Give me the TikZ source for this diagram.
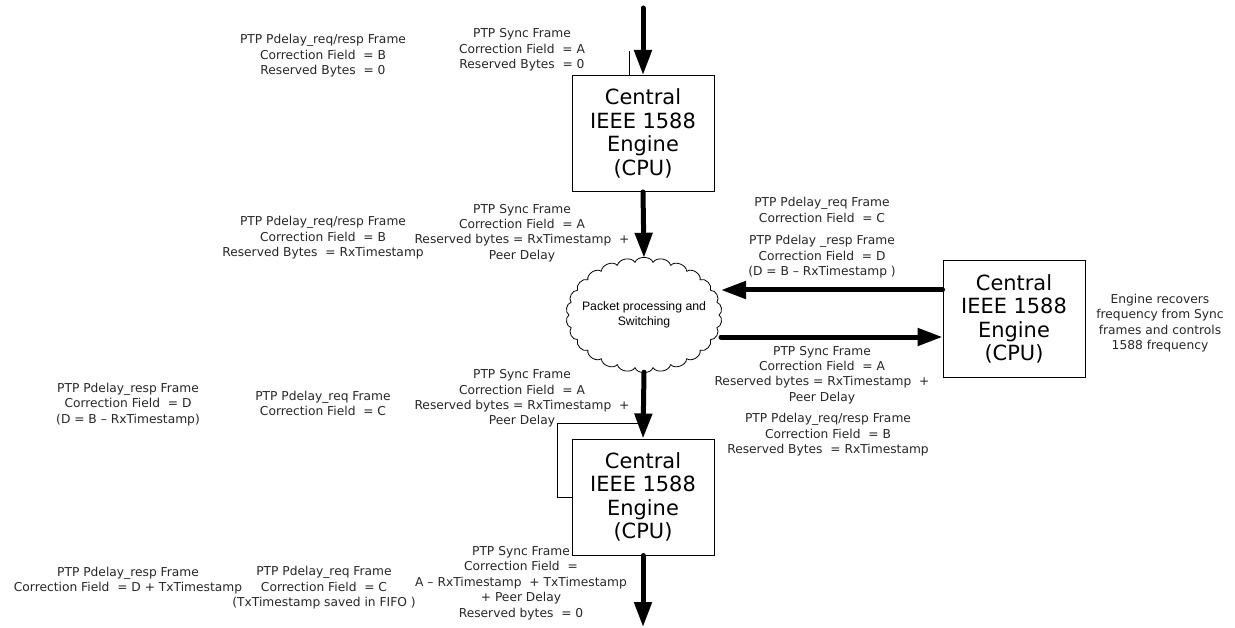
\documentclass[tikz,border=0pt]{standalone}
\usepackage{fontspec}
\setmainfont{DejaVu Sans}
\newfontfamily\cloudfont{Liberation Sans}
\usetikzlibrary{arrows.meta,shapes.geometric,calc}
\begin{document}
\begin{tikzpicture}[x=1bp,y=-1bp,
  lbl/.style={align=center,inner sep=0pt,text=black!85,font=\fontsize{12.3}{15.5}\selectfont},
  engine/.style={draw,line width=1bp,minimum width=142bp,minimum height=116bp,inner sep=0pt,align=center,font=\fontsize{21}{23.6}\selectfont},
  flow/.style={line width=5bp,line cap=round,-{Triangle[length=25bp,width=17bp]}},
  thinline/.style={line width=0.8bp},
  puff/.style={line width=0.8bp}]
\useasboundingbox (0,0) rectangle (1235,628);
% engines
\node[engine] (top) at (643,133.5) {Central\\IEEE 1588\\Engine\\(CPU)};
\node[engine] (bot) at (643,497) {Central\\IEEE 1588\\Engine\\(CPU)};
\node[engine] (right) at (1014,319) {Central\\IEEE 1588\\Engine\\(CPU)};
% cloud
\node[ellipse,minimum width=158bp,minimum height=114bp,inner sep=0pt,align=center,
  font=\cloudfont\fontsize{12.3}{15}\selectfont] (cloud) at (644,315) {Packet processing and\\Switching};
\foreach \i in {0,...,25} {
  \draw[puff] ($(cloud.center)+({\i*360/26}:75 and 53)$) to[bend left=70]
              ($(cloud.center)+({(\i+1)*360/26}:75 and 53)$);
}
% flows
\coordinate (src) at (643,8);
\coordinate (sink) at (643,627);
\coordinate (c1) at (721,290);
\coordinate (c2) at (721,337);
\draw[flow] (src) -- (top.north);
\draw[flow] (top.south) -- (cloud.north);
\draw[flow] (cloud.south) -- (bot.north);
\draw[flow] (bot.south) -- (sink);
\draw[flow] (right.west |- c1) -- (c1);
\draw[flow] (c2) -- (right.west |- c2);
% thin lines
\coordinate (t1) at (629,51);
\draw[thinline] (t1) -- (t1 |- top.north);
\coordinate (k) at (557,423);
\draw[thinline] (bot.north |- k) -- (k) |- (bot.west);
% labels
\node[lbl] (l1) at (323,56) {PTP Pdelay\_req/resp Frame\\Correction Field~~= B\\Reserved Bytes~~= 0};
\node[lbl] (l2) at (522,50) {PTP Sync Frame\\Correction Field~~= A\\Reserved Bytes~~= 0};
\node[lbl] (l3) at (323,238) {PTP Pdelay\_req/resp Frame\\Correction Field~~= B\\Reserved Bytes~~= RxTimestamp};
\node[lbl] (l4) at (522,233) {PTP Sync Frame\\Correction Field~~= A\\Reserved bytes = RxTimestamp~~+\\Peer Delay};
\node[lbl] (l5) at (822,210) {PTP Pdelay\_req Frame\\Correction Field~~= C};
\node[lbl] (l6) at (822,257) {PTP Pdelay \_resp Frame\\Correction Field~~= D\\(D = B – RxTimestamp )};
\node[lbl] (l7) at (1160,323) {Engine recovers\\frequency from Sync\\frames and controls\\1588 frequency};
\node[lbl] (l8) at (822,375) {PTP Sync Frame\\Correction Field~~= A\\Reserved bytes = RxTimestamp~~+\\Peer Delay};
\node[lbl] (l9) at (828,435) {PTP Pdelay\_req/resp Frame\\Correction Field~~= B\\Reserved Bytes~~= RxTimestamp};
\node[lbl] (l10) at (522,398.5) {PTP Sync Frame\\Correction Field~~= A\\Reserved bytes = RxTimestamp~~+\\Peer Delay};
\node[lbl] (l11) at (323,403.5) {PTP Pdelay\_req Frame\\Correction Field~~= C};
\node[lbl] (l12) at (128,404.5) {PTP Pdelay\_resp Frame\\Correction Field~~= D\\(D = B – RxTimestamp)};
\node[lbl] (l13) at (128,580.5) {PTP Pdelay\_resp Frame\\Correction Field~~= D + TxTimestamp};
\node[lbl] (l14) at (324,588) {PTP Pdelay\_req Frame\\Correction Field~~= C\\(TxTimestamp saved in FIFO )};
\node[lbl] (l15) at (521,583) {PTP Sync Frame\\Correction Field~~=\\A – RxTimestamp~~+ TxTimestamp\\+ Peer Delay\\Reserved bytes~~= 0};
\end{tikzpicture}
\end{document}
